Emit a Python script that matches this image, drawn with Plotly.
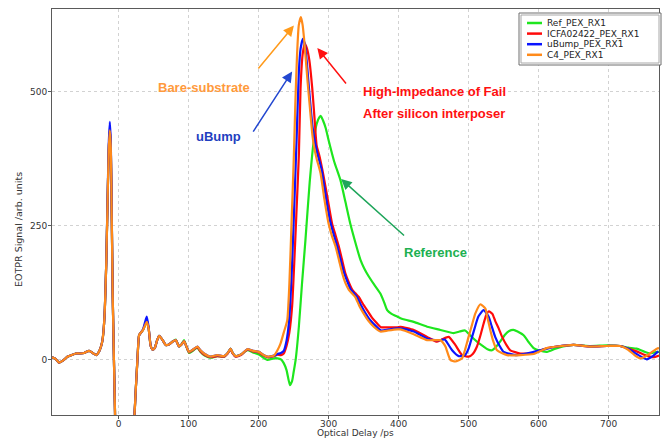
import plotly.graph_objects as go

# ---------------------------------------------------------------------------
# EOTPR traces (optical delay in ps, signal in arb. units)
# ---------------------------------------------------------------------------
series_names = ["Ref_PEX_RX1", "ICFA02422_PEX_RX1", "uBump_PEX_RX1", "C4_PEX_RX1"]
series_colors = ["#1ee61e", "#ff0a0a", "#0a14ff", "#ff8a1a"]

# shared delay grid for the launch region (before the device response)
early_delay_ps = [-95, -90, -85, -79, -73, -67, -61, -55, -49, -42, -37, -32, -28, -25, -23, -21,
                  -19.5, -17.5, -15.7, -14, -12.4, -11, -9.6, -8.3, -7, -5, 0, 5, 11, 16, 20, 23,
                  27, 29.4, 32, 35, 38, 40.4, 43, 46, 49, 52, 55, 58, 62, 67.5, 72, 77, 81.7, 86.5,
                  90, 93.6, 97, 100.7, 106, 112.7, 117, 122, 131.7, 141, 150.7, 156, 160, 163, 167,
                  175, 184, 192, 200.6, 206, 212.6, 222]

ref_early = [4, 1, -6, -2, 5, 8, 11, 11, 12, 16, 12, 8, 14, 24, 35, 60, 95, 180, 290, 390, 428,
             395, 260, 120, 30, -100, -400, -520, -520, -400, -250, -100, -1, 45, 50, 55, 64, 72,
             58, 25, 18, 22, 35, 44, 38, 27, 28, 33, 37, 24, 28, 36, 24, 12, 16, 22, 14, 8, 3, 6,
             5, 12, 20, 12, 6, 9, 17, 13, 9, 4, -1, 2]
icfa_early = [4, 1, -6, -2, 5, 8, 11, 11, 12, 16, 12, 8, 14, 24, 35, 60, 95, 180, 290, 390, 432,
              398, 260, 120, 30, -100, -400, -520, -520, -400, -250, -100, -1, 45, 50, 55, 66, 73,
              58, 25, 18, 22, 35, 44, 38, 27, 28, 33, 36, 24, 28, 34, 24, 13, 17, 23, 15, 9, 4, 6,
              5, 11, 19, 11, 5, 8, 18, 15, 13, 8, 4, 6]
ubump_early = [4, 1, -6, -2, 5, 8, 11, 11, 12, 16, 12, 8, 14, 24, 35, 60, 95, 180, 295, 400, 444,
               405, 265, 120, 30, -100, -400, -520, -520, -400, -250, -100, -1, 45, 50, 56, 70, 80,
               60, 25, 18, 22, 35, 44, 38, 27, 28, 33, 36, 24, 28, 34, 24, 14, 18, 24, 17, 11, 5, 8,
               6, 12, 20, 12, 6, 9, 19, 16, 14, 9, 5, 7]
c4_early = [4, 1, -6, -2, 5, 8, 11, 11, 12, 16, 12, 8, 14, 24, 35, 60, 95, 180, 290, 390, 428,
            395, 260, 120, 30, -100, -400, -520, -520, -400, -250, -100, -1, 45, 50, 55, 64, 70,
            58, 25, 18, 22, 35, 44, 38, 27, 28, 33, 36, 24, 28, 34, 24, 14, 18, 24, 17, 11, 5, 8,
            6, 12, 20, 12, 6, 9, 19, 16, 14, 9, 5, 7]

# device response region, one delay grid per trace
ref_delay_ps = [227, 232, 236, 240, 244.8, 248, 250, 253, 257.6, 262, 267, 273, 279, 283, 287, 289,
                292, 296, 300, 308, 317, 324, 331, 338, 345.6, 351, 357.5, 365, 374, 379, 383.7,
                390, 398, 402.7, 410, 421.7, 440.8, 459.8, 478.7, 487, 495, 500, 507, 514, 521.5,
                527, 533.5, 539, 545, 552, 558, 564, 570, 578.6, 586, 593, 600, 612, 624, 635, 650,
                674, 697.6, 716.5, 728, 740, 750, 759, 766, 772]
ref_signal = [2, 0, -7, -20, -48, -40, -25, -1, 61, 140, 223, 330, 410, 440, 453, 455, 447, 432,
              410, 370, 335, 295, 254, 220, 186, 170, 155, 140, 123, 108, 92, 85, 80, 77, 74, 70,
              61, 55, 49, 52, 54, 48, 39, 31, 24, 19, 17, 23, 33, 46, 53, 55, 52, 45, 32, 21, 17,
              14, 20, 24, 27, 25, 26, 25, 22, 20, 15, 11, 13, 14]

icfa_delay_ps = [227, 232, 236, 240, 244, 248, 251, 254, 257.6, 260, 263, 266, 269, 272.5, 276.7,
                 280, 283, 287, 293, 299, 305, 310, 314.7, 319, 324, 329, 334, 338, 343, 349, 355,
                 362, 369.5, 375, 386, 398, 402.7, 421.7, 440.8, 455, 463, 471.6, 481, 490.7, 500,
                 506, 512, 517, 521.5, 525, 529, 534, 538, 543, 548, 554, 559.6, 574, 593, 612, 626,
                 650, 674, 697.6, 716.5, 728, 740, 752, 764, 772]
icfa_signal = [9, 8, 11, 25, 50, 100, 180, 270, 382, 507, 570, 591, 582, 560, 507, 450, 400, 380,
               342, 298, 254, 232, 211, 188, 161, 144, 130, 124, 117, 104, 92, 78, 67, 60, 60, 60,
               61, 55, 42, 33, 38, 42, 27, 8, 5, 10, 24, 45, 67, 82, 90, 85, 72, 58, 42, 27, 17, 11,
               12, 21, 24, 27, 24, 25, 25, 20, 15, 8, 4, 7]

ubump_delay_ps = [227, 232, 236, 240, 243.5, 247, 250, 254.4, 257.6, 260, 263.3, 266, 269, 272,
                  276.7, 280, 284, 290, 296, 302, 307, 312, 317, 322, 327, 331.5, 336, 340.5, 346,
                  352, 359, 367, 375, 386, 398, 402.7, 421.7, 440.8, 452, 459.8, 466, 471, 476.5,
                  486, 495, 500, 505, 509.5, 514, 521.5, 528.6, 533, 538, 544, 550, 569, 593, 612,
                  626, 650, 674, 697.6, 716.5, 728, 740, 754.6, 763, 771]
ubump_signal = [10, 12, 16, 35, 70, 150, 250, 413, 538, 580, 599, 590, 555, 507, 440, 410, 385,
                355, 305, 260, 235, 213, 187, 162, 145, 131, 124, 117, 102, 88, 74, 63, 54, 56, 58,
                58, 52, 39, 36, 36, 37, 28, 17, 6, 8, 20, 42, 62, 80, 92, 80, 62, 42, 26, 14, 8, 14,
                20, 24, 27, 24, 25, 25, 20, 10, 0, 6, 15]

c4_delay_ps = [227, 231.5, 236, 241, 244, 247, 250.5, 252.5, 255, 257.5, 260.5, 263, 265, 267,
               270, 273, 276.5, 279, 283, 288.6, 294, 300, 305, 310, 315, 319.5, 324, 329, 333,
               338, 344, 350, 357, 364.6, 374, 385, 398, 402.7, 421.7, 440.8, 452, 459.8, 463, 467,
               474, 481, 490.7, 495, 500, 505, 509.7, 517, 524, 527, 531, 535, 540.6, 555, 574,
               593, 612, 626, 650, 674, 697.6, 716.5, 728, 737, 745, 752, 760, 769, 772]
c4_signal = [17, 30, 50, 73, 140, 250, 382, 476, 569, 625, 640, 625, 600, 569, 520, 476, 425, 400,
             375, 348, 300, 254, 230, 211, 185, 161, 143, 130, 124, 117, 100, 86, 72, 61, 52, 54,
             56, 56, 47, 36, 36, 36, 32, 24, -1, -4, 2, 18, 42, 65, 86, 103, 95, 78, 55, 35, 17, 8,
             8, 10, 21, 24, 27, 24, 25, 25, 18, 8, 2, 5, 12, 20, 21]

x_ticks = [0, 100, 200, 300, 400, 500, 600, 700]
y_ticks = [0, 250, 500]
x_title = "Optical Delay /ps"
y_title = "EOTPR Signal /arb. units"

traces = [
    (ref_early, ref_delay_ps, ref_signal),
    (icfa_early, icfa_delay_ps, icfa_signal),
    (ubump_early, ubump_delay_ps, ubump_signal),
    (c4_early, c4_delay_ps, c4_signal),
]

fig = go.Figure()
for name, color, (early, delay, signal) in zip(series_names, series_colors, traces):
    fig.add_trace(go.Scatter(
        x=early_delay_ps + delay,
        y=early + signal,
        mode="lines",
        name=name,
        line=dict(color=color, width=2.2, shape="spline", smoothing=0.5),
        showlegend=False,
    ))

# ---------------------------------------------------------------------------
# layout: plot area geometry in pixels
# ---------------------------------------------------------------------------
W, H = 665, 438
L, R, T, B = 52, 659, 9, 415


def px_x(p):
    return (p - L) / (R - L)


def px_y(p):
    return (B - p) / (B - T)


text_grey = "#333333"
tick_font = dict(family="DejaVu Sans", size=9, color=text_grey)
axis_common = dict(
    showline=True, linecolor="#5a5a5a", linewidth=1, mirror=True,
    ticks="outside", ticklen=3, tickcolor="#5a5a5a",
    showgrid=True, gridcolor="#d2d2d2", griddash="dot", gridwidth=1,
    zeroline=False, tickfont=tick_font, automargin=False,
)

fig.update_layout(
    width=W, height=H,
    margin=dict(l=L, r=W - R, t=T, b=H - B),
    paper_bgcolor="white", plot_bgcolor="white",
    xaxis=dict(range=[-95, 772], tickvals=x_ticks, ticklabelstandoff=-3, **axis_common),
    yaxis=dict(range=[-104, 655], tickvals=y_ticks, ticklabelstandoff=-1, **axis_common),
)

# axis titles
fig.add_annotation(x=0.5, y=px_y(432.5), xref="paper", yref="paper", text=x_title,
                   showarrow=False, xanchor="center", yanchor="middle",
                   font=dict(family="DejaVu Sans", size=9, color=text_grey))
fig.add_annotation(x=px_x(18), y=px_y(230), xref="paper", yref="paper", text=y_title,
                   textangle=-90, showarrow=False, xanchor="center", yanchor="middle",
                   font=dict(family="DejaVu Sans", size=9.5, color=text_grey))

# ---------------------------------------------------------------------------
# call-out labels and arrows
# ---------------------------------------------------------------------------
label_font = "Liberation Sans"
callouts = [
    # text, x, y, anchor, text colour
    ("Bare-substrate", 122.7, 509, "center", "#ff9a3c"),
    ("uBump", 143, 417, "center", "#1f3fc0"),
    ("High-Impedance of Fail", 345.8, 500, "left", "#ff1010"),
    ("After silicon interposer", 345.8, 460, "left", "#ff1010"),
    ("Reference", 453, 199, "center", "#20b050"),
]
for text, x, y, anchor, color in callouts:
    fig.add_annotation(x=x, y=y, xref="x", yref="y", text=text, showarrow=False,
                       xanchor=anchor, yanchor="middle",
                       font=dict(family=label_font, size=13, color=color, weight="bold"))

arrows = [
    # head (x, y), tail (x, y), colour
    ((250.5, 624), (198, 541), "#ff9a1a"),
    ((248, 538), (191, 423), "#2347d0"),
    ((284, 582), (326.7, 513), "#ff1010"),
    ((318, 337), (410, 229), "#1ea55a"),
]
for (hx, hy), (tx, ty), color in arrows:
    fig.add_annotation(x=hx, y=hy, ax=tx, ay=ty, xref="x", yref="y", axref="x", ayref="y",
                       text="", showarrow=True, arrowhead=2, arrowsize=1.4, arrowwidth=1.5,
                       arrowcolor=color, standoff=0, startstandoff=0)

# ---------------------------------------------------------------------------
# legend box drawn in the top-right corner
# ---------------------------------------------------------------------------
box = (519, 13, 661, 65)
fig.add_shape(type="rect", xref="paper", yref="paper",
              x0=px_x(box[0]), x1=px_x(box[2]), y0=px_y(box[3]), y1=px_y(box[1]),
              line=dict(color="#6e6e6e", width=1), fillcolor="white", layer="above")
fig.add_shape(type="rect", xref="paper", yref="paper",
              x0=px_x(box[0] + 2), x1=px_x(box[2] - 2), y0=px_y(box[3] - 2), y1=px_y(box[1] + 2),
              line=dict(color="#a8a8a8", width=1), fillcolor="rgba(0,0,0,0)", layer="above")

row_y = [23.0, 33.6, 44.2, 54.8]
for name, color, ry in zip(series_names, series_colors, row_y):
    fig.add_shape(type="line", xref="paper", yref="paper",
                  x0=px_x(527), x1=px_x(542), y0=px_y(ry), y1=px_y(ry),
                  line=dict(color=color, width=2.5), layer="above")
    fig.add_annotation(x=px_x(546), y=px_y(ry), xref="paper", yref="paper", text=name,
                       showarrow=False, xanchor="left", yanchor="middle", borderpad=0,
                       font=dict(family="DejaVu Sans", size=9, color="#222222"))

fig.write_html("out.html")
